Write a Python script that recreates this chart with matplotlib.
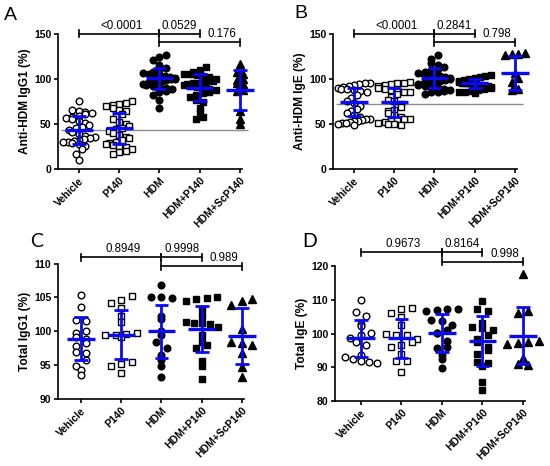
import numpy as np
import matplotlib
matplotlib.use("Agg")
import matplotlib.pyplot as plt

plt.rcParams["font.family"] = ["Liberation Sans", "DejaVu Sans"]

groups = ["Vehicle", "P140", "HDM", "HDM+P140", "HDM+ScP140"]

# ---- panel A : anti-HDM IgG1 (%)
a_vehicle = [76, 65, 64, 63, 62, 61, 59, 58, 57, 55, 53, 51, 49, 47, 45, 43, 41, 39, 37, 35,
             34, 33, 32, 31, 30, 30, 29, 28, 26, 22, 17, 10]
a_p140 = [75, 73, 72, 71, 70, 68, 66, 64, 61, 58, 55, 52, 50, 48, 46, 44, 42, 40, 38, 36,
          34, 32, 30, 29, 28, 27, 26, 25, 22, 20, 19, 17]
a_hdm = [127, 124, 121, 115, 112, 110, 108, 107, 106, 105, 104, 103, 102, 101, 100, 100,
         99, 98, 97, 96, 95, 94, 93, 92, 91, 90, 89, 87, 85, 82, 77, 68]
a_hdm_p140 = [113, 110, 108, 106, 105, 104, 103, 102, 100, 98, 97, 96, 95, 94, 93, 92, 91,
              90, 89, 88, 86, 84, 82, 80, 77, 74, 68, 63, 58, 56]
a_hdm_sc = [117, 108, 106, 100, 99, 95, 94, 88, 87, 64, 55, 50]
a_mean = [43.3, 45.0, 100.7, 90.0, 88.0]
a_sd = [16.0, 17.5, 11.5, 15.0, 22.5]
a_ref = 43.3
a_pvals = [(0, 2, 150, "<0.0001"), (2, 3, 150, "0.0529"), (2, 4, 141, "0.176")]

# ---- panel B : anti-HDM IgE (%)
b_vehicle = [96, 95, 94, 93, 92, 91, 90, 89, 89, 88, 87, 85, 82, 79, 76, 73, 70, 67, 64, 62,
             60, 58, 56, 55, 54, 53, 53, 52, 51, 51, 50, 49]
b_p140 = [97, 96, 95, 94, 93, 92, 90, 89, 88, 87, 86, 85, 83, 80, 77, 75, 72, 69, 66, 64,
          62, 60, 58, 56, 55, 54, 53, 52, 51, 50, 50, 49]
b_hdm = [127, 122, 118, 115, 113, 111, 110, 108, 107, 106, 105, 104, 103, 102, 101, 100,
         99, 98, 97, 96, 95, 94, 93, 92, 91, 90, 89, 88, 87, 86, 85, 83]
b_hdm_p140 = [104, 103, 102, 101, 100, 99, 98, 97, 96, 96, 95, 95, 94, 94, 93, 93, 92, 92,
              91, 90, 89, 88, 87, 86, 85, 84]
b_hdm_sc = [129, 128, 128, 127, 107, 101, 97, 90, 89, 88]
b_mean = [74.0, 74.0, 101.0, 95.0, 106.5]
b_sd = [15.5, 16.0, 11.5, 5.0, 18.5]
b_ref = 72.0
b_pvals = [(0, 2, 150, "<0.0001"), (2, 3, 150, "0.2841"), (2, 4, 141, "0.798")]

# ---- panel C : total IgG1 (%)
c_vehicle = [105.4, 103.6, 101.6, 101.5, 100.0, 99.8, 99.1, 98.9, 98.3, 97.8, 97.0, 96.8,
             95.8, 94.8, 94.3, 93.5]
c_p140 = [105.2, 104.6, 104.1, 103.5, 102.2, 101.4, 99.7, 99.6, 99.5, 99.4, 99.2, 95.4,
          95.2, 94.8, 93.8]
c_hdm = [106.8, 105.0, 105.0, 104.9, 102.2, 101.8, 100.1, 99.5, 98.4, 97.5, 96.5, 95.8,
         94.9, 93.2]
c_hdm_p140 = [105.0, 104.9, 104.8, 104.5, 103.3, 102.3, 101.3, 101.2, 101.2, 101.1, 100.6,
              99.4, 98.4, 97.9, 97.6, 95.6, 94.9, 93.0]
c_hdm_sc = [104.7, 104.5, 103.9, 100.4, 98.4, 98.3, 98.0, 96.8, 94.7, 93.3]
c_mean = [98.9, 99.5, 100.0, 100.3, 99.3]
c_sd = [3.2, 3.6, 3.9, 3.4, 4.1]
c_pvals = [(0, 2, 110.9, "0.8949"), (2, 3, 110.9, "0.9998"), (2, 4, 109.6, "0.989")]

# ---- panel D : total IgE (%)
d_vehicle = [109.9, 106.5, 105.3, 103.0, 102.4, 100.1, 99.6, 98.6, 97.6, 96.6, 93.6, 93.1,
             92.6, 92.0, 91.7, 91.4]
d_p140 = [107.6, 107.4, 106.2, 105.0, 102.6, 100.0, 99.7, 99.5, 98.5, 97.6, 96.6, 96.0,
          94.1, 92.0, 91.8, 88.6]
d_hdm = [107.4, 107.3, 107.1, 106.6, 104.1, 103.7, 102.7, 101.2, 100.3, 100.1, 97.9, 96.0,
         95.6, 93.8, 92.4, 89.9]
d_hdm_p140 = [109.6, 107.2, 106.7, 103.1, 102.0, 101.7, 101.2, 99.7, 98.5, 97.5, 96.1, 95.2,
              93.9, 91.5, 91.2, 90.5, 85.6, 83.3]
d_hdm_sc = [117.7, 106.8, 106.2, 97.8, 97.4, 97.2, 97.0, 92.8, 90.9, 90.7]
d_mean = [98.6, 98.6, 100.2, 97.7, 99.4]
d_sd = [5.6, 5.7, 5.6, 7.4, 8.4]
d_pvals = [(0, 2, 124.2, "0.9673"), (2, 3, 124.2, "0.8164"), (2, 4, 121.4, "0.998")]

BLUE = "#0a0af5"
marker_styles = [
    dict(marker="o", mfc="white"),
    dict(marker="s", mfc="white"),
    dict(marker="o", mfc="black"),
    dict(marker="s", mfc="black"),
    dict(marker="^", mfc="black"),
]
text_x = [1.05, 2.5, 3.55]

fig = plt.figure(figsize=(5.5, 4.66), dpi=100)
FW, FH = 550, 466


def spread(values, xs, ys, row_h, gap, half_w=16.0):
    # GraphPad-like scatter: group points into horizontal rows, centre each row
    vals = np.asarray(values, dtype=float)
    rows = np.floor((vals.max() - vals) * ys / row_h).astype(int)
    off = np.zeros(len(vals))
    for r in np.unique(rows):
        idx = np.where(rows == r)[0]
        idx = idx[np.argsort(vals[idx])]
        n = len(idx)
        step = gap if n < 2 else min(gap, 2 * half_w / (n - 1))
        for k, j in enumerate(idx):
            pos = (k - (n - 1) / 2) * step
            if r % 2:
                pos = -pos
            off[j] = pos / xs
    return off


def panel(rect_px, data, mean, sd, ylim, yticks, ylabel, pvals, xleft, row_h, gap,
          ref=None, ms=4.8):
    l, b, w, h = rect_px
    ax = fig.add_axes([l / FW, 1 - b / FH, w / FW, h / FH])
    xright = 4.05
    ax.set_xlim(xleft, xright)
    ax.set_ylim(*ylim)
    xs = w / (xright - xleft)
    ys = h / (ylim[1] - ylim[0])

    if ref is not None:
        ax.hlines(ref, -0.45, 4.2, color="#8c8c8c", lw=1.0, zorder=1, clip_on=False)

    for i, vals in enumerate(data):
        off = spread(vals, xs, ys, row_h, gap)
        ax.plot(i + off, vals, ls="none", color="black", mec="black", mew=1.0,
                ms=ms if marker_styles[i]["marker"] != "^" else ms + 0.6,
                clip_on=False, zorder=3, **marker_styles[i])

    for i, (m, s) in enumerate(zip(mean, sd)):
        ax.vlines(i, m - s, m + s, color=BLUE, lw=2.0, zorder=5, clip_on=False)
        ax.hlines([m - s, m + s], i - 0.17, i + 0.17, color=BLUE, lw=2.0, zorder=5, clip_on=False)
        ax.hlines(m, i - 0.34, i + 0.34, color=BLUE, lw=2.4, zorder=6, clip_on=False)

    tick_h = 3.5 / ys
    for (x0, x1, y, lab), tx in zip(pvals, text_x):
        ax.plot([x0, x1], [y, y], color="black", lw=1.2, clip_on=False, zorder=4)
        for xx in (x0, x1):
            ax.plot([xx, xx], [y - tick_h, y + tick_h], color="black", lw=1.2,
                    clip_on=False, zorder=4)
        ax.annotate(lab, (tx, y), xytext=(0, 1.5), textcoords="offset points",
                    ha="center", va="bottom", fontsize=8.3, annotation_clip=False)

    for sp in ("top", "right"):
        ax.spines[sp].set_visible(False)
    for sp in ("left", "bottom"):
        ax.spines[sp].set_linewidth(1.2)
    ax.tick_params(direction="out", length=3.2, width=1.2, labelsize=7.5, pad=1.5)
    ax.set_yticks(yticks)
    ax.set_yticklabels([str(t) for t in yticks], fontweight="bold")
    ax.set_xticks(range(len(groups)))
    ax.set_xticklabels(groups, rotation=45, ha="right", rotation_mode="anchor",
                       fontweight="bold", fontsize=7.5)
    ax.set_ylabel(ylabel, fontweight="bold", fontsize=8.6, labelpad=2)
    return ax


panel((58, 169, 184, 135), [a_vehicle, a_p140, a_hdm, a_hdm_p140, a_hdm_sc], a_mean, a_sd,
      (0, 150), [0, 50, 100, 150], "Anti-HDM IgG1 (%)", a_pvals, -0.52, 6.0, 6.5, ref=a_ref)
panel((333, 169, 184, 135), [b_vehicle, b_p140, b_hdm, b_hdm_p140, b_hdm_sc], b_mean, b_sd,
      (0, 150), [0, 50, 100, 150], "Anti-HDM IgE (%)", b_pvals, -0.52, 6.0, 6.5, ref=b_ref)
panel((58, 399, 186, 135.5), [c_vehicle, c_p140, c_hdm, c_hdm_p140, c_hdm_sc], c_mean, c_sd,
      (90, 110), [90, 95, 100, 105, 110], "Total IgG1 (%)", c_pvals, -0.57, 8.0, 10.5)
panel((335, 401, 190, 134.7), [d_vehicle, d_p140, d_hdm, d_hdm_p140, d_hdm_sc], d_mean, d_sd,
      (80, 120), [80, 90, 100, 110, 120], "Total IgE (%)", d_pvals, -0.64, 8.0, 10.5)

fig.text(4 / FW, 1 - 16 / FH, "A", fontsize=14, va="center", ha="left")
fig.text(294 / FW, 1 - 14 / FH, "B", fontsize=14, va="center", ha="left")
fig.text(30 / FW, 1 - 242 / FH, "C", fontsize=14, va="center", ha="left", family="Lato")
fig.text(302 / FW, 1 - 242 / FH, "D", fontsize=14, va="center", ha="left", family="Lato")

fig.savefig("out.png", dpi=100)
